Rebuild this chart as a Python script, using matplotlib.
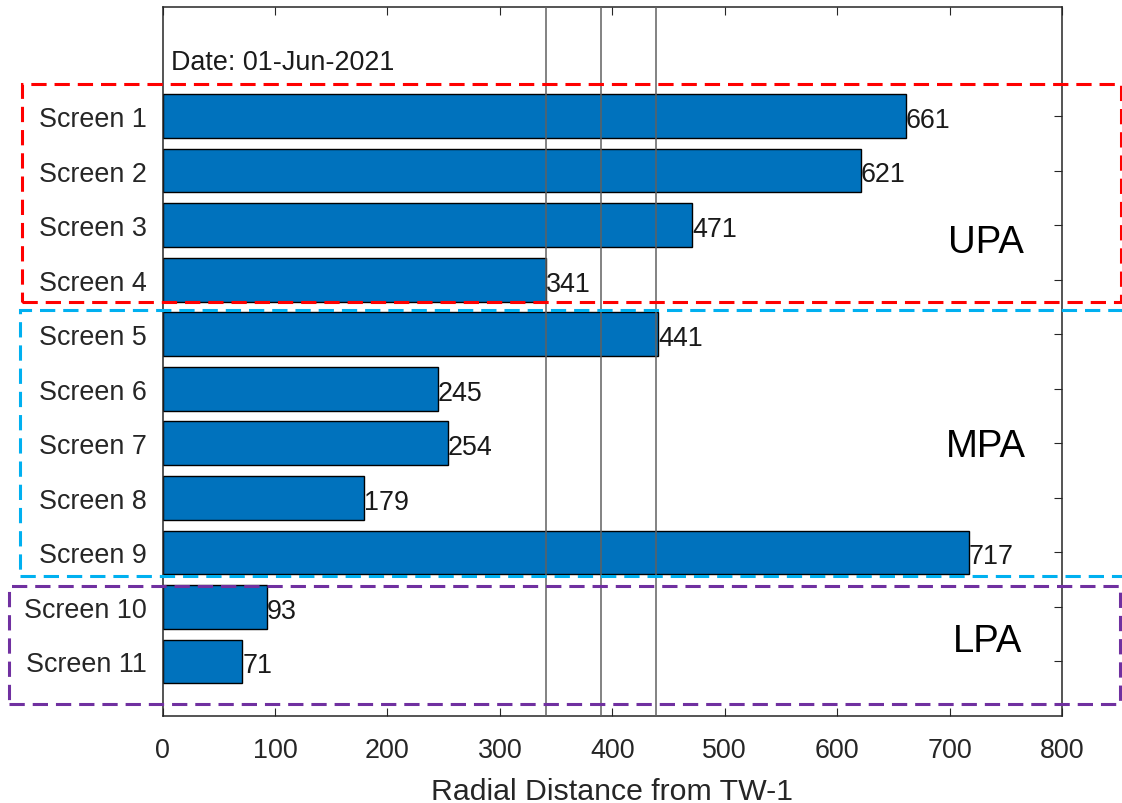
import matplotlib
matplotlib.use("Agg")
import matplotlib.pyplot as plt
from matplotlib.patches import Rectangle

plt.rcParams['font.family'] = ['Liberation Sans', 'DejaVu Sans']

# ---- data -------------------------------------------------------------
screens = [f"Screen {i}" for i in range(1, 12)]
distances = [661, 621, 471, 341, 441, 245, 254, 179, 717, 93, 71]
ref_lines = [341, 390, 439]
x_ticks = [0, 100, 200, 300, 400, 500, 600, 700, 800]
date_text = "Date: 01-Jun-2021"
x_label = "Radial Distance from TW-1"

group_names = ["UPA", "MPA", "LPA"]
group_colors = ["#FF0000", "#00B0F0", "#7030A0"]
# group outlines in figure pixels: (left, top, right, bottom)
group_boxes = [(22, 85, 1121, 303), (20, 311, 1140, 577), (9, 587, 1120, 705)]
group_label_xy = [(986, 243), (986, 447), (988, 642)]

# ---- figure -----------------------------------------------------------
W, H = 1122, 804
fig = plt.figure(figsize=(W / 100, H / 100), dpi=100)
ax = fig.add_axes([162.5 / W, 1 - 717 / H, (1062 - 162.5) / W, (717 - 8) / H])

ink = "#262626"
fs = 19.4
pos = list(range(1, len(screens) + 1))
ax.barh(pos, distances, height=0.8, color="#0072BD", edgecolor="black",
        linewidth=1.0, zorder=2)

for p, v in zip(pos, distances):
    ax.text(v, p + 0.07, f"{v}", ha="left", va="center", fontsize=fs,
            color="#1a1a1a", zorder=4)

for xv in ref_lines:
    ax.axvline(xv, color="#606060", linewidth=1.1, zorder=3)

ax.text(8, 0, date_text, ha="left", va="center", fontsize=fs, color="#1a1a1a")

ax.set_xlim(0, 800)
ax.set_ylim(12, -1)
ax.set_xticks(x_ticks)
ax.set_yticks(pos)
ax.set_yticklabels(screens)
ax.set_xlabel(x_label, fontsize=21.8, color=ink, labelpad=10)

ax.tick_params(axis="both", direction="in", length=6, width=0.8, color=ink,
               labelsize=fs, labelcolor=ink, top=True, right=True)
ax.tick_params(axis="x", pad=15)
ax.tick_params(axis="y", pad=11)
for s in ax.spines.values():
    s.set_color(ink)
    s.set_linewidth(1.1)

# ---- group outlines ---------------------------------------------------
for name, col, (l, t, r, b), (lx, ly) in zip(group_names, group_colors,
                                             group_boxes, group_label_xy):
    rect = Rectangle((l / W, 1 - b / H), (r - l) / W, (b - t) / H,
                     transform=fig.transFigure, fill=False, edgecolor=col,
                     linewidth=2.2, linestyle=(0, (5, 2.6)), clip_on=False,
                     zorder=10)
    fig.add_artist(rect)
    fig.text(lx / W, 1 - ly / H, name, ha="center", va="center", fontsize=27.5,
             color="black")

fig.savefig("out.png", dpi=100)
